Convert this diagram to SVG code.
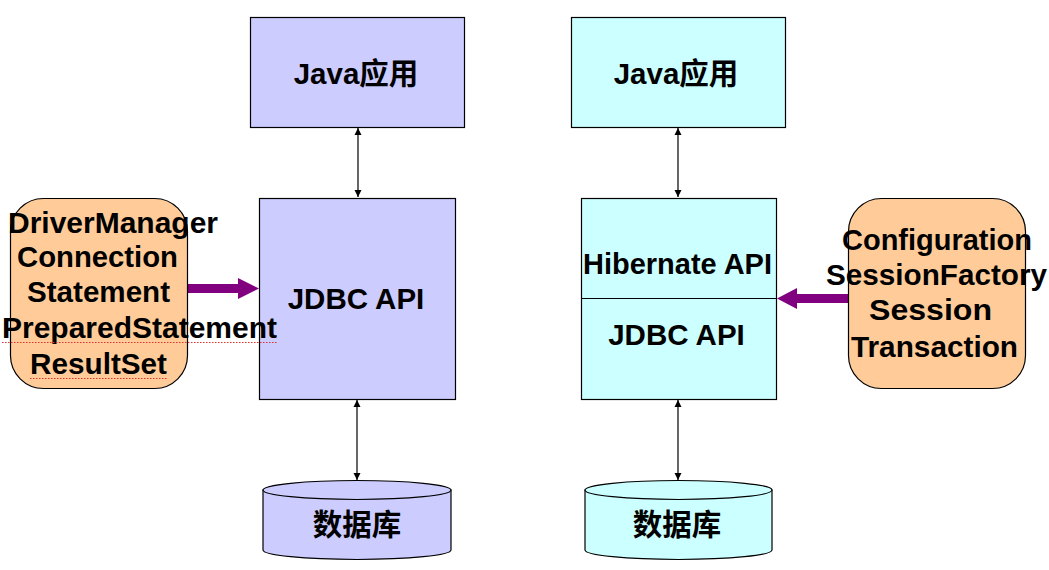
<svg xmlns="http://www.w3.org/2000/svg" width="1049" height="570" viewBox="0 0 1049 570">
<defs>
<style>
.t{font-family:"Liberation Sans",Arial,"Noto Sans CJK SC",sans-serif;font-weight:bold;font-size:29.5px;fill:#000}
.m{text-anchor:middle}
.b{stroke:#000;stroke-width:1.2}
.lav{fill:#CCCCFF}
.cy{fill:#CCFFFF}
.or{fill:#FFCC99}
.ln{stroke:#000;stroke-width:1.2;fill:none}
.wave{stroke:#E03030;stroke-width:1;fill:none;stroke-dasharray:1.5 1.5}
</style>
<marker id="ah" viewBox="0 0 10 10" refX="10" refY="5" markerWidth="7" markerHeight="9" markerUnits="userSpaceOnUse" orient="auto-start-reverse">
<path d="M0,0 L10,5 L0,10 Z" fill="#000"/>
</marker>
</defs>
<rect width="1049" height="570" fill="#fff"/>

<g id="connectors">
<line class="ln" x1="358" y1="128" x2="358" y2="197" marker-start="url(#ah)" marker-end="url(#ah)"/>
<line class="ln" x1="357" y1="400" x2="357" y2="480" marker-start="url(#ah)" marker-end="url(#ah)"/>
<line class="ln" x1="678" y1="128" x2="678" y2="197" marker-start="url(#ah)" marker-end="url(#ah)"/>
<line class="ln" x1="678" y1="400" x2="678" y2="480" marker-start="url(#ah)" marker-end="url(#ah)"/>
<path d="M188,284 L238,284 L238,278 L259,288.5 L238,299 L238,293 L188,293 Z" fill="#800080"/>
<path d="M848,294 L797,294 L797,288 L777,298.5 L797,309 L797,303 L848,303 Z" fill="#800080"/>
</g>

<g id="java-left">
<rect class="b lav" x="250.5" y="17.5" width="214" height="110"/>
<text class="t m" x="356" y="84">Java应用</text>
</g>
<g id="java-right">
<rect class="b cy" x="571.5" y="17.5" width="214" height="110"/>
<text class="t m" x="676" y="84">Java应用</text>
</g>

<g id="jdbc-left">
<rect class="b lav" x="259.5" y="198.5" width="196" height="201"/>
<text class="t m" x="356" y="309">JDBC API</text>
</g>
<g id="hibernate-right">
<rect class="b cy" x="581.5" y="198.5" width="195" height="201"/>
<line class="ln" x1="581.5" y1="298.5" x2="776.5" y2="298.5"/>
<text class="t m" x="677.5" y="274" textLength="189" lengthAdjust="spacingAndGlyphs">Hibernate API</text>
<text class="t m" x="676.5" y="345">JDBC API</text>
</g>

<g id="db-left">
<path class="b lav" d="M263,490 L263,550 A94,9.5 0 0 0 451,550 L451,490 Z"/>
<ellipse class="b lav" cx="357" cy="490" rx="94" ry="9.5"/>
<text class="t m" x="357" y="535">数据库</text>
</g>
<g id="db-right">
<path class="b cy" d="M585,490 L585,550 A93.5,9.5 0 0 0 772,550 L772,490 Z"/>
<ellipse class="b cy" cx="678.5" cy="490" rx="93.5" ry="9.5"/>
<text class="t m" x="677" y="535">数据库</text>
</g>

<g id="jdbc-classes">
<rect class="b or" x="10.5" y="198.5" width="177" height="190" rx="33" ry="33"/>
<text class="t" x="8" y="233" textLength="210" lengthAdjust="spacingAndGlyphs">DriverManager</text>
<text class="t" x="17" y="267" textLength="161" lengthAdjust="spacingAndGlyphs">Connection</text>
<text class="t" x="27" y="302" textLength="143" lengthAdjust="spacingAndGlyphs">Statement</text>
<text class="t" x="2" y="338" textLength="275" lengthAdjust="spacingAndGlyphs">PreparedStatement</text>
<text class="t" x="30" y="374" textLength="137" lengthAdjust="spacingAndGlyphs">ResultSet</text>
<line class="wave" x1="2" y1="342.5" x2="277" y2="342.5"/>
<line class="wave" x1="30" y1="378.5" x2="167" y2="378.5"/>
</g>

<g id="hibernate-classes">
<rect class="b or" x="848.5" y="198.5" width="177" height="190" rx="33" ry="33"/>
<text class="t m" x="937" y="250" textLength="190" lengthAdjust="spacingAndGlyphs">Configuration</text>
<text class="t m" x="936.5" y="285" textLength="221" lengthAdjust="spacingAndGlyphs">SessionFactory</text>
<text class="t m" x="930.5" y="320" textLength="123" lengthAdjust="spacingAndGlyphs">Session</text>
<text class="t m" x="934.5" y="357" textLength="167" lengthAdjust="spacingAndGlyphs">Transaction</text>
</g>
</svg>
